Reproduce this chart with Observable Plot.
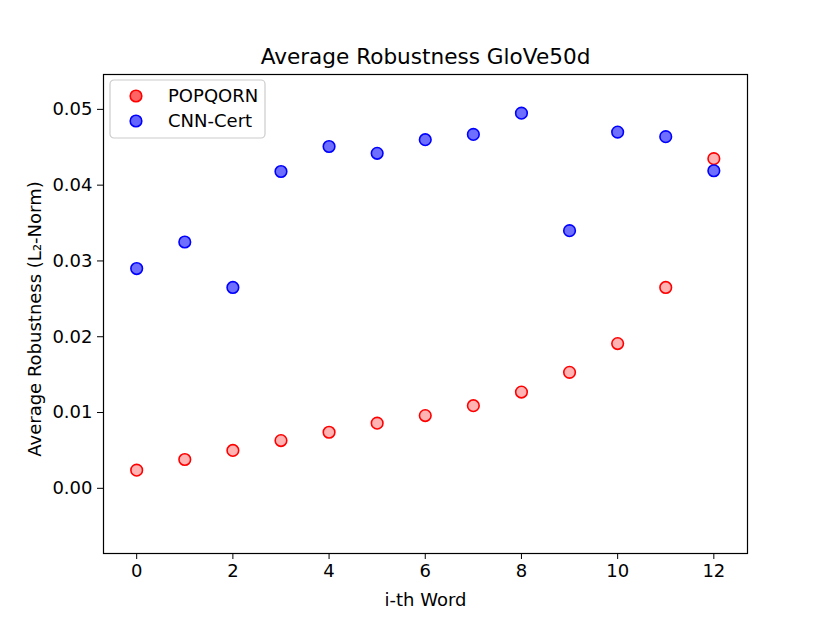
<!DOCTYPE html>
<html>
<head>
<meta charset="utf-8">
<script src="https://cdn.jsdelivr.net/npm/d3@7"></script>
<script src="https://cdn.jsdelivr.net/npm/@observablehq/plot@0.6"></script>
<style>
  html, body { margin: 0; padding: 0; background: #fff; }
  #chart { position: relative; width: 830px; height: 623px; }
  svg { font-family: "DejaVu Sans", sans-serif; }
</style>
</head>
<body>
<div id="chart"></div>
<script>
const words = [0, 1, 2, 3, 4, 5, 6, 7, 8, 9, 10, 11, 12];
const popqorn = [0.0024, 0.0038, 0.0050, 0.0063, 0.0074, 0.0086, 0.0096, 0.0109, 0.0127, 0.0153, 0.0191, 0.0265, 0.0435];
const cnncert = [0.0290, 0.0325, 0.0265, 0.0418, 0.0451, 0.0442, 0.0460, 0.0467, 0.0495, 0.0340, 0.0470, 0.0464, 0.0419];
const seriesNames = ["POPQORN", "CNN-Cert"];
const xTicks = [0, 2, 4, 6, 8, 10, 12];
const yTicks = [0.00, 0.01, 0.02, 0.03, 0.04, 0.05];
const title = "Average Robustness GloVe50d";
const xLabel = "i-th Word";
const yLabel = "Average Robustness (L₂-Norm)";

const dataP = words.map((w, i) => ({x: w, y: popqorn[i]}));
const dataC = words.map((w, i) => ({x: w, y: cnncert[i]}));

const plot = Plot.plot({
  width: 830,
  height: 623,
  marginLeft: 103,
  marginRight: 83,
  marginTop: 74,
  marginBottom: 70,
  style: {fontFamily: "DejaVu Sans, sans-serif", fontSize: "18px", color: "#000", background: "#fff"},
  x: {domain: [-0.69, 12.7], ticks: xTicks, tickFormat: d => String(d), label: null, tickSize: 6, tickPadding: 5},
  y: {domain: [-0.0086, 0.0546], ticks: yTicks, tickFormat: d => d.toFixed(2), label: null, tickSize: 6, tickPadding: 5},
  marks: [
    Plot.frame({stroke: "#000", strokeWidth: 1.2}),
    Plot.dot(dataP, {x: "x", y: "y", r: 5.8, fill: "#ffb3b3", stroke: "#ff0000", strokeWidth: 1.6}),
    Plot.dot(dataC, {x: "x", y: "y", r: 5.8, fill: "#6e6eff", stroke: "#0000ff", strokeWidth: 1.6}),
    Plot.text([title], {frameAnchor: "top", dy: -17, lineAnchor: "middle", text: d => d, fontSize: 21.6, fill: "#000"}),
    Plot.text([xLabel], {frameAnchor: "bottom", dy: 47, lineAnchor: "middle", text: d => d, fontSize: 18, fill: "#000"}),
    Plot.text([yLabel], {frameAnchor: "left", dx: -68, dy: 5, rotate: -90, textAnchor: "middle", lineAnchor: "middle", text: d => d, fontSize: 18, fill: "#000"})
  ]
});
document.getElementById("chart").appendChild(plot);

// Legend drawn inside the axes (upper left)
const svg = d3.select(plot);
const lg = svg.append("g").attr("transform", "translate(110,80)");
lg.append("rect").attr("width", 155).attr("height", 58).attr("rx", 4)
  .attr("fill", "#fff").attr("fill-opacity", 0.8).attr("stroke", "#cccccc").attr("stroke-width", 1.2);
const legendFill = ["#ff6464", "#6464ff"];
const legendStroke = ["#ff0000", "#0000ff"];
seriesNames.forEach((name, i) => {
  const yy = 16 + i * 25;
  lg.append("circle").attr("cx", 26).attr("cy", yy).attr("r", 5.8)
    .attr("fill", legendFill[i]).attr("stroke", legendStroke[i]).attr("stroke-width", 1.6);
  lg.append("text").attr("x", 58).attr("y", yy).attr("dy", "0.35em")
    .attr("text-anchor", "start")
    .attr("font-size", 18).attr("fill", "#000").text(name);
});
</script>
</body>
</html>
